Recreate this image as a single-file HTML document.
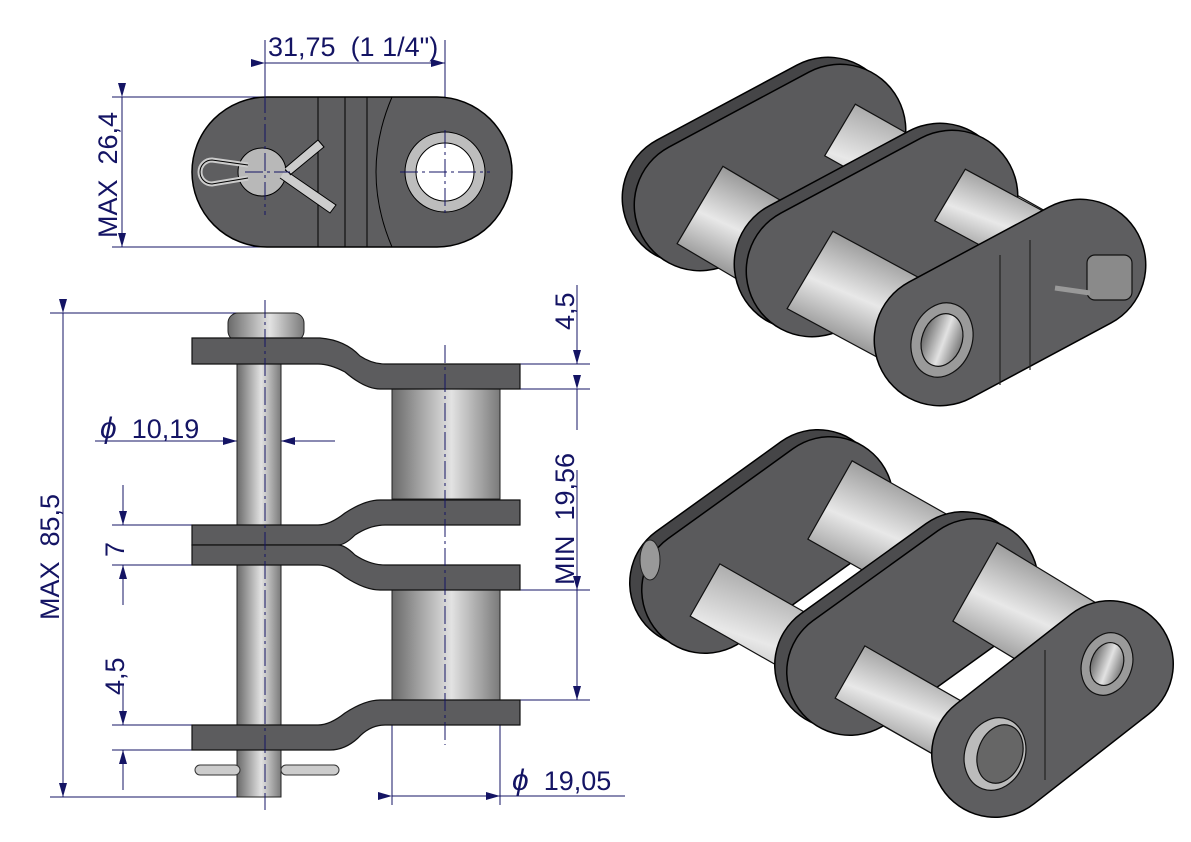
<!DOCTYPE html>
<html><head><meta charset="utf-8"><style>
html,body{margin:0;padding:0;background:#fff;}
svg{display:block}
text{font-family:"Liberation Sans",sans-serif;fill:#141464;font-size:27px;white-space:pre}
</style></head><body>
<svg width="1191" height="842" viewBox="0 0 1191 842" xmlns="http://www.w3.org/2000/svg">
<defs>
<linearGradient id="cyl" x1="0" x2="1" y1="0" y2="0">
<stop offset="0" stop-color="#6a6a6a"/><stop offset="0.55" stop-color="#e2e2e2"/><stop offset="1" stop-color="#7a7a7a"/></linearGradient>
<linearGradient id="cd" x1="0.25" x2="0.75" y1="1" y2="0">
<stop offset="0" stop-color="#555"/><stop offset="0.5" stop-color="#e8e8e8"/><stop offset="1" stop-color="#6a6a6a"/></linearGradient>
<marker id="ar" markerWidth="14" markerHeight="8" refX="14" refY="4" orient="auto" markerUnits="userSpaceOnUse"><path d="M0,0 L14,4 L0,8 z" fill="#141464"/></marker>
</defs>
<g stroke="#141464" stroke-width="1" fill="none">
<line x1="265" y1="40" x2="265" y2="200"/><line x1="445" y1="40" x2="445" y2="200"/>
<line x1="265" y1="63" x2="445" y2="63" marker-start="url(#ar)" marker-end="url(#ar)"/>
<line x1="112" y1="97" x2="265" y2="97"/><line x1="112" y1="247" x2="265" y2="247"/>
<line x1="122" y1="97" x2="122" y2="247" marker-start="url(#ar)" marker-end="url(#ar)"/>
<line x1="50" y1="313" x2="265" y2="313"/><line x1="50" y1="797" x2="265" y2="797"/>
<line x1="63" y1="313" x2="63" y2="797" marker-start="url(#ar)" marker-end="url(#ar)"/>
<line x1="520" y1="364" x2="590" y2="364"/><line x1="500" y1="389" x2="590" y2="389"/>
<line x1="577" y1="285" x2="577" y2="364" marker-end="url(#ar)"/>
<line x1="577" y1="389" x2="577" y2="430" marker-start="url(#ar)"/>
<line x1="577" y1="470" x2="577" y2="590"/>
<line x1="500" y1="590" x2="590" y2="590"/><line x1="500" y1="700" x2="590" y2="700"/>
<line x1="577" y1="590" x2="577" y2="700" marker-start="url(#ar)" marker-end="url(#ar)"/>
<line x1="95" y1="441" x2="335" y2="441"/>
<line x1="215" y1="441" x2="237" y2="441" marker-end="url(#ar)"/>
<line x1="315" y1="441" x2="281" y2="441" marker-end="url(#ar)"/>
<line x1="112" y1="525" x2="192" y2="525"/><line x1="112" y1="565" x2="192" y2="565"/>
<line x1="123" y1="485" x2="123" y2="525" marker-end="url(#ar)"/>
<line x1="123" y1="605" x2="123" y2="565" marker-end="url(#ar)"/>
<line x1="112" y1="725" x2="192" y2="725"/><line x1="112" y1="750" x2="192" y2="750"/>
<line x1="123" y1="685" x2="123" y2="725" marker-end="url(#ar)"/>
<line x1="123" y1="790" x2="123" y2="750" marker-end="url(#ar)"/>
<line x1="392" y1="700" x2="392" y2="805"/><line x1="500" y1="700" x2="500" y2="805"/>
<line x1="392" y1="796" x2="625" y2="796"/>
<line x1="392" y1="796" x2="410" y2="796" marker-start="url(#ar)"/>
<line x1="482" y1="796" x2="500" y2="796" marker-end="url(#ar)"/>
</g>
<!-- top view -->
<rect x="192" y="97" width="320" height="150" rx="75" fill="#5e5e60" stroke="#000" stroke-width="1.5"/>
<line x1="318" y1="97" x2="318" y2="247" stroke="#000"/><line x1="345" y1="97" x2="345" y2="247" stroke="#000"/><line x1="367" y1="97" x2="367" y2="247" stroke="#000"/>
<path d="M392,97 Q360,172 392,247" stroke="#000" fill="none"/>
<circle cx="445" cy="172" r="40" fill="#bdbdbd" stroke="#000"/><circle cx="445" cy="172" r="29" fill="#fff" stroke="#000"/>
<circle cx="262" cy="172" r="24" fill="#b8b8b8" stroke="#000"/>
<path d="M248,165 L212,160 A12,12 0 1,0 212,184 L248,178" fill="none" stroke="#ccc" stroke-width="5"/>
<path d="M248,165 L212,160 A12,12 0 1,0 212,184 L248,178" fill="none" stroke="#000" stroke-width="1"/>
<path d="M280,178 L330,213 L336,205 L285,170 M285,168 L318,140 L324,147 L290,175" fill="#ccc" stroke="#000"/>
<g stroke="#141464" stroke-width="1" stroke-dasharray="18,4,3,4"><line x1="265" y1="95" x2="265" y2="215"/><line x1="245" y1="172" x2="290" y2="172"/><line x1="445" y1="130" x2="445" y2="215"/><line x1="400" y1="172" x2="490" y2="172"/></g>
<!-- side view -->
<rect x="237" y="313" width="44" height="484" fill="url(#cyl)" stroke="#222"/>
<rect x="228" y="313" width="76" height="28" rx="10" fill="url(#cyl)" stroke="#222"/>
<rect x="392" y="389" width="108" height="110" fill="url(#cyl)" stroke="#222"/>
<rect x="392" y="590" width="108" height="112" fill="url(#cyl)" stroke="#222"/>
<g fill="#5c5c5e" stroke="#111" stroke-width="1.2">
<path d="M192,338 L320,338 Q345,340 360,356 Q372,364 385,364 L520,364 L520,389 L380,389 Q365,389 345,372 Q330,364 318,364 L192,364 Z"/>
<path d="M192,525 L318,525 Q330,525 345,513 Q365,500 380,500 L520,500 L520,525 L385,525 Q370,525 355,535 Q345,545 338,545 L192,545 Z"/>
<path d="M192,545 L338,545 Q345,545 355,555 Q370,565 385,565 L520,565 L520,590 L380,590 Q365,590 345,577 Q330,565 318,565 L192,565 Z"/>
<path d="M192,725 L318,725 Q330,725 345,713 Q365,700 380,700 L520,700 L520,725 L385,725 Q370,725 358,738 Q345,750 330,750 L192,750 Z"/>
</g>
<rect x="195" y="765" width="45" height="10" rx="5" fill="#ccc" stroke="#333"/>
<rect x="281" y="765" width="58" height="10" rx="5" fill="#ccc" stroke="#333"/>
<g stroke="#141464" stroke-width="1" stroke-dasharray="18,4,3,4"><line x1="265" y1="300" x2="265" y2="810"/><line x1="445" y1="345" x2="445" y2="745"/></g>
<!-- texts -->
<text x="268" y="56">31,75  (1 1/4")</text>
<text transform="translate(117,238) rotate(-90)">MAX  26,4</text>
<text transform="translate(59,620) rotate(-90)">MAX  85,5</text>
<text transform="translate(574,330) rotate(-90)">4,5</text>
<text transform="translate(574,585) rotate(-90)">MIN  19,56</text>
<text transform="translate(124,557) rotate(-90)">7</text>
<text transform="translate(124,695) rotate(-90)">4,5</text>
<text x="100" y="438"><tspan font-style="italic" font-size="30">ϕ</tspan>  10,19</text>
<text x="512" y="790"><tspan font-style="italic" font-size="30">ϕ</tspan>  19,05</text>
<!-- 3D upper -->
<g stroke-linecap="round">
<line x1="688" y1="198" x2="828" y2="123" stroke="#000" stroke-width="133"/>
<line x1="688" y1="198" x2="828" y2="123" stroke="#454547" stroke-width="130"/>
<line x1="700" y1="205" x2="840" y2="130" stroke="#000" stroke-width="133"/>
<line x1="700" y1="205" x2="840" y2="130" stroke="#5a5a5c" stroke-width="130"/>
</g>
<g stroke="#111" stroke-width="1.2">
<polygon points="722.9,166.3 832.9,231.3 787.1,308.7 677.1,243.7" fill="url(#cd)"/>
<polygon points="855.3,104.2 1095.3,239.2 1064.7,290.8 824.7,155.8" fill="url(#cd)"/>
</g>
<g stroke-linecap="round">
<line x1="800" y1="264" x2="940" y2="189" stroke="#000" stroke-width="133"/>
<line x1="800" y1="264" x2="940" y2="189" stroke="#4c4c4e" stroke-width="130"/>
<line x1="812" y1="271" x2="952" y2="196" stroke="#000" stroke-width="133"/>
<line x1="812" y1="271" x2="952" y2="196" stroke="#5c5c5e" stroke-width="130"/>
</g>
<g stroke="#111" stroke-width="1.2">
<polygon points="965.3,169.2 1095.3,239.2 1064.7,290.8 934.7,220.8" fill="url(#cd)"/>
<polygon points="832.9,231.3 962.9,301.3 917.1,378.7 787.1,308.7" fill="url(#cd)"/>
</g>
<g stroke-linecap="round">
<line x1="940" y1="340" x2="1080" y2="265" stroke="#000" stroke-width="133"/>
<line x1="940" y1="340" x2="1080" y2="265" stroke="#5e5e60" stroke-width="130"/>
</g>
<g stroke="#111" stroke-width="1.2">
<line x1="1030" y1="240" x2="1030" y2="370" stroke="#222"/>
<line x1="1000" y1="255" x2="1000" y2="385" stroke="#222"/>
<ellipse cx="942" cy="340" rx="30" ry="38" transform="rotate(20 942 340)" fill="#9a9a9a"/>
<ellipse cx="942" cy="340" rx="20" ry="27" transform="rotate(20 942 340)" fill="url(#cyl)"/>
<rect x="1087" y="255" width="45" height="45" rx="8" fill="#8a8a8a"/>
<line x1="1055" y1="288" x2="1090" y2="293" stroke-width="5" stroke="#999"/>
</g>
<!-- 3D lower -->
<g stroke-linecap="round">
<line x1="693" y1="583" x2="818" y2="493" stroke="#000" stroke-width="128"/>
<line x1="693" y1="583" x2="818" y2="493" stroke="#454547" stroke-width="125"/>
<line x1="705" y1="590" x2="830" y2="500" stroke="#000" stroke-width="128"/>
<line x1="705" y1="590" x2="830" y2="500" stroke="#5a5a5c" stroke-width="125"/>
</g>
<ellipse cx="650" cy="560" rx="10" ry="20" fill="#999" stroke="#222"/>
<g stroke="#111" stroke-width="1.2">
<polygon points="719.8,563.9 1009.8,728.9 980.2,781.1 690.2,616.1" fill="url(#cd)"/>
<polygon points="852.1,460.8 997.1,542.8 952.9,621.2 807.9,539.2" fill="url(#cd)"/>
</g>
<g stroke-linecap="round">
<line x1="838" y1="665" x2="963" y2="575" stroke="#000" stroke-width="128"/>
<line x1="838" y1="665" x2="963" y2="575" stroke="#4c4c4e" stroke-width="125"/>
<line x1="850" y1="672" x2="975" y2="582" stroke="#000" stroke-width="128"/>
<line x1="850" y1="672" x2="975" y2="582" stroke="#5c5c5e" stroke-width="125"/>
</g>
<g stroke="#111" stroke-width="1.2">
<polygon points="997.1,542.8 1132.1,624.8 1087.9,703.2 952.9,621.2" fill="url(#cd)"/>
<polygon points="864.8,645.9 1009.8,728.9 980.2,781.1 835.2,698.1" fill="url(#cd)"/>
</g>
<g stroke-linecap="round">
<line x1="995" y1="754" x2="1110" y2="664" stroke="#000" stroke-width="128"/>
<line x1="995" y1="754" x2="1110" y2="664" stroke="#5e5e60" stroke-width="125"/>
</g>
<g stroke="#111" stroke-width="1.2">
<line x1="1045" y1="650" x2="1045" y2="780" stroke="#222"/>
<ellipse cx="1107" cy="664" rx="25" ry="32" transform="rotate(20 1107 664)" fill="#9a9a9a"/>
<ellipse cx="1107" cy="664" rx="16" ry="22" transform="rotate(20 1107 664)" fill="url(#cyl)"/>
<ellipse cx="995" cy="754" rx="30" ry="37" transform="rotate(20 995 754)" fill="#bbb"/>
<ellipse cx="1000" cy="754" rx="22" ry="30" transform="rotate(20 1000 754)" fill="#666"/>
</g>
</svg>
</body></html>
